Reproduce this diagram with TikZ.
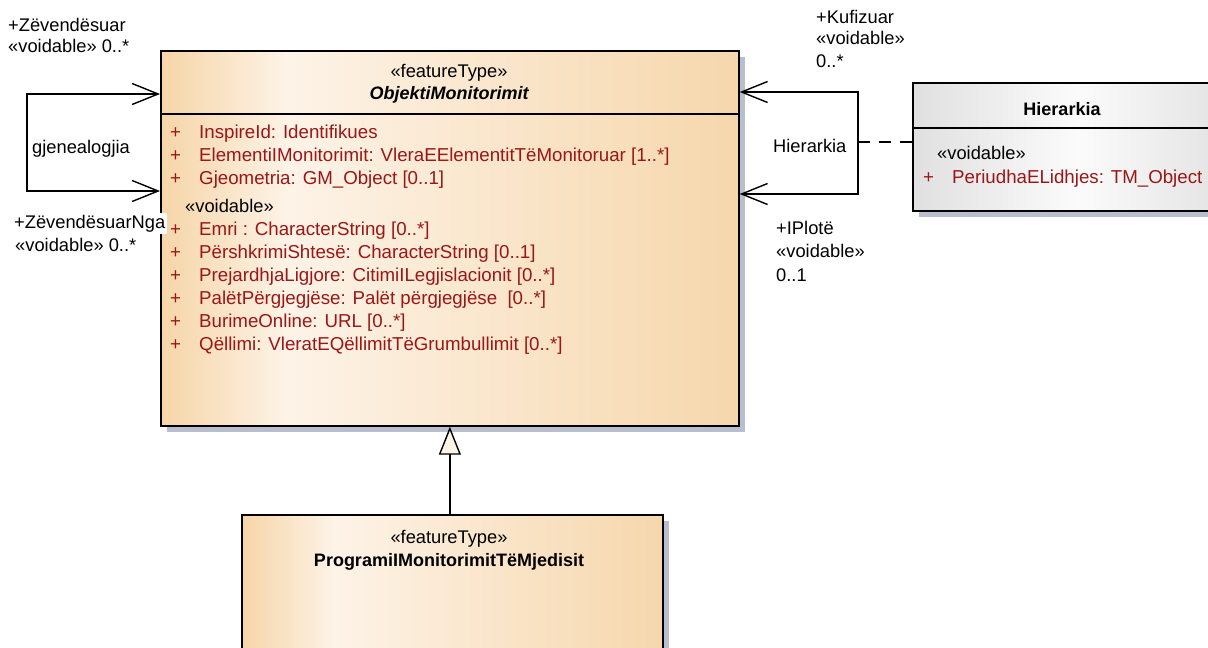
\documentclass[tikz,border=0pt]{standalone}
\usepackage{fontspec}
\setmainfont{Liberation Sans}
\usetikzlibrary{arrows.meta,calc,shadows}
\definecolor{oEdge}{RGB}{246,213,168}
\definecolor{oLight}{RGB}{253,243,231}
\definecolor{oRight}{RGB}{246,215,172}
\definecolor{gEdge}{RGB}{224,224,224}
\definecolor{gLight}{RGB}{251,251,251}
\definecolor{shadowc}{RGB}{185,190,207}
\definecolor{attrred}{RGB}{155,22,22}
\definecolor{creamfill}{RGB}{253,244,230}
\pgfdeclarehorizontalshading{orangesh}{100bp}{color(0bp)=(oEdge); color(25bp)=(oEdge); color(36bp)=(oLight); color(75bp)=(oRight); color(100bp)=(oRight)}
\pgfdeclarehorizontalshading{graysh}{100bp}{color(0bp)=(gEdge); color(25bp)=(gEdge); color(50bp)=(gLight); color(75bp)=(gEdge); color(100bp)=(gEdge)}
\tikzset{
  umlbox/.style={draw=black, line width=1.7pt, rectangle, inner sep=0pt, anchor=north west},
  boxshadow/.style={drop shadow={fill=shadowc, shadow xshift=6pt, shadow yshift=-6pt, opacity=1}},
  txt/.style={font=\fontsize{18.3}{22}\selectfont, inner sep=0pt, anchor=base west},
  attr/.style={txt, font=\fontsize{18.7}{22}\selectfont, text=attrred},
  ttl/.style={font=\fontsize{18}{22}\selectfont\bfseries, inner sep=0pt, anchor=base},
  sep/.style={line width=1.5pt},
  assoc/.style={line width=1.4pt, draw=black},
  assocarr/.style={assoc, {Straight Barb[length=26pt,width=21pt,line width=1.4pt]}-{Straight Barb[length=26pt,width=21pt,line width=1.4pt]}},
  gen/.style={line width=1.4pt, -{Triangle[length=28pt,width=22pt,fill=creamfill,line width=1.4pt]}},
  dashline/.style={assoc, dash pattern=on 12pt off 9pt}
}
\begin{document}
\begin{tikzpicture}[x=1pt,y=-1pt]
\clip (0,0) rectangle (1208,648);
\fill[white] (0,0) rectangle (1208,648);

% boxes
\node[umlbox, boxshadow, shading=orangesh, minimum width=578pt, minimum height=375pt] (obj) at (160,50) {};
\node[umlbox, boxshadow, shading=orangesh, minimum width=421pt, minimum height=170pt] (prog) at (241,514) {};
\node[umlbox, boxshadow, shading=graysh, minimum width=330pt, minimum height=128pt] (hier) at (912,82) {};

% compartments
\draw[sep] ($(obj.north west)+(0,64)$) -- ($(obj.north east)+(0,64)$);
\draw[sep] ($(hier.north west)+(0,46)$) -- ($(hier.north east)+(0,46)$);

% ObjektiMonitorimit texts
\node[txt, anchor=base] (objst) at (449,77) {«featureType»};
\node[ttl, font=\fontsize{18}{22}\selectfont\bfseries\itshape] (objnm) at (449,99) {ObjektiMonitorimit};
\foreach \i/\y/\t in {1/138/{InspireId: Identifikues},
                      2/161.5/{ElementiIMonitorimit: VleraEElementitTëMonitoruar [1..*]},
                      3/184.5/{Gjeometria: GM\_Object [0..1]},
                      4/235.5/{Emri : CharacterString [0..*]},
                      5/258.5/{PërshkrimiShtesë: CharacterString [0..1]},
                      6/281.5/{PrejardhjaLigjore: CitimiILegjislacionit [0..*]},
                      7/304.5/{PalëtPërgjegjëse: Palët përgjegjëse\ \ [0..*]},
                      8/327.5/{BurimeOnline: URL [0..*]},
                      9/350.5/{Qëllimi: VleratEQëllimitTëGrumbullimit [0..*]}}{
  \node[attr] (objp\i) at (170,\y) {+};
  \node[attr] (obja\i) at (199,\y) {\t};
}
\node[txt] (objvd) at (185,212) {«voidable»};

% Programi texts
\node[txt, anchor=base] (progst) at (449,543) {«featureType»};
\node[ttl] (prognm) at (449,566) {ProgramiIMonitorimitTëMjedisit};

% Hierarkia texts
\node[ttl] (hiernm) at (1062,115) {Hierarkia};
\node[txt] (hiervd) at (937,159) {«voidable»};
\node[attr] (hierp) at (923,183) {+};
\node[attr] (hiera) at (952,183) {PeriudhaELidhjes: TM\_Object};

% left self association
\coordinate (lloopT) at (27,94);
\coordinate (lloopB) at (27,191);
\draw[assocarr] ($(obj.north west)+(0,44)$) -- (lloopT) -- (lloopB) -- ($(obj.north west)+(0,141)$);
\node[txt] (zv1) at (8,31) {+Zëvendësuar};
\node[txt] (zv2) at (8,52) {«voidable» 0..*};
\node[txt] (gjen) at (32,153) {gjenealogjia};
\node[txt, fill=white, inner xsep=1.5pt, inner ysep=2pt] (zvn1) at (12.5,228) {+ZëvendësuarNga};
\node[txt] (zvn2) at (15,251) {«voidable» 0..*};

% right association with association class
\coordinate (rloopT) at (858,92);
\coordinate (rloopB) at (858,194);
\coordinate (rloopM) at (858,142);
\draw[assocarr] ($(obj.north east)+(0,42)$) -- (rloopT) -- (rloopB) -- ($(obj.north east)+(0,144)$);
\draw[dashline] (rloopM) -- (hier.west |- rloopM);
\node[txt] (hlab) at (773,152) {Hierarkia};
\node[txt] (kf1) at (816,23) {+Kufizuar};
\node[txt] (kf2) at (816,44) {«voidable»};
\node[txt] (kf3) at (816,67) {0..*};
\node[txt] (ip1) at (776,234) {+IPlotë};
\node[txt] (ip2) at (776,257) {«voidable»};
\node[txt] (ip3) at (776,281) {0..1};

% generalization
\draw[gen] (prog.north -| obj.south) -- (obj.south);
\end{tikzpicture}
\end{document}
